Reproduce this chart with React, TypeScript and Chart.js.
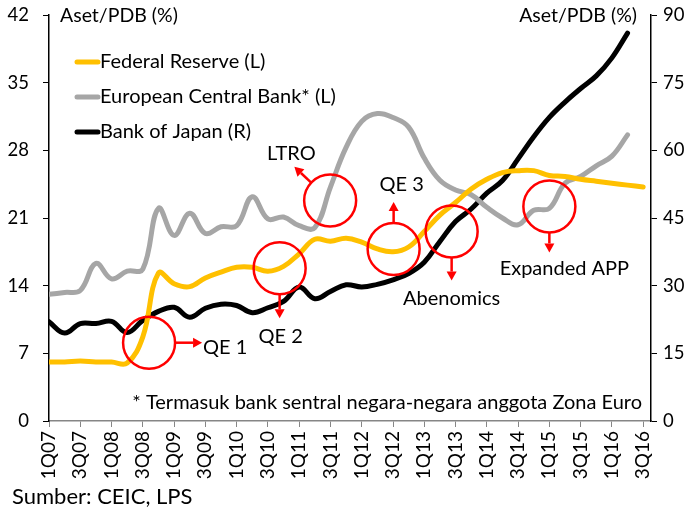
import React, { useEffect, useRef } from "react";
import { Chart, registerables } from "chart.js";

Chart.register(...registerables);

const FONT = "Lato, 'Open Sans', sans-serif";

const quarters = [
  "1Q07", "2Q07", "3Q07", "4Q07", "1Q08", "2Q08", "3Q08", "4Q08",
  "1Q09", "2Q09", "3Q09", "4Q09", "1Q10", "2Q10", "3Q10", "4Q10",
  "1Q11", "2Q11", "3Q11", "4Q11", "1Q12", "2Q12", "3Q12", "4Q12",
  "1Q13", "2Q13", "3Q13", "4Q13", "1Q14", "2Q14", "3Q14", "4Q14",
  "1Q15", "2Q15", "3Q15", "4Q15", "1Q16", "2Q16", "3Q16",
];

// % of GDP, left axis
const fedReserve = [
  6.1, 6.1, 6.2, 6.1, 6.1, 6.0, 8.7, 15.3, 14.2, 13.9, 14.8, 15.4, 15.9, 15.9, 15.5, 16.0,
  17.3, 18.8, 18.6, 18.9, 18.5, 17.8, 17.5, 18.0, 19.6, 21.3, 22.6, 24.0, 25.0, 25.7, 25.9, 25.9,
  25.4, 25.3, 25.0, 24.8, 24.6, 24.4, 24.2,
];

// % of GDP, left axis
const ecb = [
  13.1, 13.3, 13.5, 16.3, 14.7, 15.5, 15.7, 22.0, 19.2, 21.5, 19.4, 20.1, 20.2, 23.2, 20.9, 21.1,
  20.2, 20.0, 24.2, 28.3, 31.0, 31.8, 31.4, 30.4, 27.2, 24.9, 23.9, 23.4, 22.1, 21.0, 20.3, 21.8,
  22.0, 24.6, 25.3, 26.4, 27.4, 29.6,
];

// % of GDP, right axis
const boj = [
  22.0, 19.5, 21.6, 21.6, 22.1, 19.6, 22.3, 24.3, 25.2, 23.0, 25.0, 25.9, 25.6, 24.0, 25.1, 26.5,
  29.7, 27.1, 28.7, 30.2, 29.7, 30.3, 31.3, 32.7, 35.2, 39.8, 44.2, 47.0, 50.5, 53.3, 58.1, 63.0,
  67.3, 70.7, 73.7, 76.5, 80.5, 86.0,
];

const leftMax = 42;
const leftStep = 7;
const rightMax = 90;
const rightStep = 15;

const seriesNames = ["Federal Reserve (L)", "European Central Bank* (L)", "Bank of Japan (R)"];
const seriesColors = ["#FFC000", "#A6A6A6", "#000000"];

const axisTitle = "Aset/PDB (%)";
const footnote = "* Termasuk bank sentral negara-negara anggota Zona Euro";
const source = "Sumber: CEIC, LPS";

// Annotation circles: q = quarter index, v = left-axis value
const annotations = [
  { label: "QE 1", q: 6.4, v: 8.1, dir: [1, 0], len: 27, align: "left", tx: 1, ty: 5 },
  { label: "QE 2", q: 14.75, v: 15.8, dir: [0, 1], len: 24, align: "center", tx: 1, ty: 18 },
  { label: "LTRO", q: 17.98, v: 22.8, dir: [-0.73, -0.69], len: 23, align: "center", tx: -3, ty: -13 },
  { label: "QE 3", q: 22.04, v: 17.8, dir: [0, -1], len: 21, align: "center", tx: 8, ty: -17 },
  { label: "Abenomics", q: 25.75, v: 19.6, dir: [0, 1], len: 23, align: "center", tx: 0, ty: 18 },
  { label: "Expanded APP", q: 32.0, v: 22.2, dir: [0, 1], len: 20, align: "center", tx: 15, ty: 16 },
];

const toXY = (arr: number[]) => arr.map((y, i) => ({ x: i, y }));

const zeroPad = (scale: any) => {
  scale.paddingTop = 0;
  scale.paddingBottom = 0;
  scale.paddingLeft = 0;
  scale.paddingRight = 0;
};

const overlayPlugin = {
  id: "overlay",
  afterDatasetsDraw(chart: any) {
    const ctx = chart.ctx;
    const xs = chart.scales.x;
    const ys = chart.scales.y;
    const r = 26;
    ctx.save();
    ctx.strokeStyle = "#FF0000";
    ctx.fillStyle = "#FF0000";
    ctx.lineWidth = 2.5;
    for (const a of annotations) {
      const cx = xs.getPixelForValue(a.q);
      const cy = ys.getPixelForValue(a.v);
      ctx.beginPath();
      ctx.arc(cx, cy, r, 0, Math.PI * 2);
      ctx.stroke();
      const [dx, dy] = a.dir;
      const sx = cx + dx * r;
      const sy = cy + dy * r;
      const ex = sx + dx * a.len;
      const ey = sy + dy * a.len;
      const head = 9;
      const hw = 5;
      const bx = ex - dx * head;
      const by = ey - dy * head;
      ctx.beginPath();
      ctx.moveTo(sx, sy);
      ctx.lineTo(bx, by);
      ctx.stroke();
      ctx.beginPath();
      ctx.moveTo(ex, ey);
      ctx.lineTo(bx - dy * hw, by + dx * hw);
      ctx.lineTo(bx + dy * hw, by - dx * hw);
      ctx.closePath();
      ctx.fill();
      ctx.save();
      ctx.fillStyle = "#000";
      ctx.font = `20px ${FONT}`;
      ctx.textAlign = a.align as CanvasTextAlign;
      ctx.textBaseline = "middle";
      ctx.fillText(a.label, ex + a.tx, ey + a.ty);
      ctx.restore();
    }
    ctx.restore();
  },
  afterDraw(chart: any) {
    const ctx = chart.ctx;
    const area = chart.chartArea;
    ctx.save();
    ctx.fillStyle = "#000";
    ctx.textBaseline = "middle";
    ctx.font = `19.5px ${FONT}`;
    ctx.textAlign = "left";
    ctx.fillText(axisTitle, area.left + 11, area.top + 1);
    ctx.textAlign = "right";
    ctx.fillText(axisTitle, area.right - 14, area.top + 1);

    // legend
    ctx.font = `20px ${FONT}`;
    ctx.textAlign = "left";
    seriesNames.forEach((name, i) => {
      const y = area.top + 47 + i * 35;
      ctx.strokeStyle = seriesColors[i];
      ctx.lineWidth = 5;
      ctx.lineCap = "round";
      ctx.beginPath();
      ctx.moveTo(area.left + 28, y);
      ctx.lineTo(area.left + 49, y);
      ctx.stroke();
      ctx.fillText(name, area.left + 51, y);
    });

    ctx.font = `20px ${FONT}`;
    ctx.textAlign = "right";
    ctx.fillText(footnote, area.right - 9, area.bottom - 18);

    ctx.font = `22px ${FONT}`;
    ctx.textAlign = "left";
    ctx.fillText(source, 12, 497);
    ctx.restore();
  },
};

export default function App() {
  const canvasRef = useRef<HTMLCanvasElement | null>(null);

  useEffect(() => {
    const canvas = canvasRef.current;
    if (!canvas) return;
    const tickFont = { family: FONT, size: 18.5 };
    const xTickFont = { family: FONT, size: 19 };
    const chart = new Chart(canvas, {
      type: "line",
      data: {
        datasets: [
          {
            label: seriesNames[0],
            data: toXY(fedReserve),
            borderColor: seriesColors[0],
            yAxisID: "y",
          },
          {
            label: seriesNames[1],
            data: toXY(ecb),
            borderColor: seriesColors[1],
            yAxisID: "y",
          },
          {
            label: seriesNames[2],
            data: toXY(boj),
            borderColor: seriesColors[2],
            yAxisID: "y1",
          },
        ].map((d) => ({
          ...d,
          borderWidth: 5,
          pointRadius: 0,
          tension: 0.4,
          fill: false,
          borderCapStyle: "round" as const,
          borderJoinStyle: "round" as const,
        })),
      },
      options: {
        animation: false,
        responsive: false,
        devicePixelRatio: 1,
        layout: { padding: { top: 15, left: 0, right: 0, bottom: 0 } },
        plugins: {
          legend: { display: false },
          tooltip: { enabled: false },
        },
        scales: {
          x: {
            type: "linear",
            min: 0,
            max: 38.5,
            grid: {
              drawOnChartArea: false,
              drawTicks: true,
              tickLength: 6,
              color: "#868686",
            },
            border: { color: "#868686", width: 1.5 },
            ticks: {
              stepSize: 2,
              includeBounds: false,
              autoSkip: false,
              minRotation: 90,
              maxRotation: 90,
              padding: 4,
              color: "#000",
              font: xTickFont,
              callback: (value: any) => quarters[Number(value)] ?? "",
            },
            afterFit: (scale: any) => {
              scale.height = 90;
              zeroPad(scale);
            },
          },
          y: {
            position: "left",
            min: 0,
            max: leftMax,
            grid: { drawOnChartArea: false, drawTicks: true, tickLength: 6, color: "#000" },
            border: { color: "#000", width: 1.5 },
            ticks: { stepSize: leftStep, padding: 14, color: "#000", font: tickFont },
            afterFit: (scale: any) => {
              scale.width = 49;
              zeroPad(scale);
            },
          },
          y1: {
            position: "right",
            min: 0,
            max: rightMax,
            grid: { drawOnChartArea: false, drawTicks: true, tickLength: 6, color: "#000" },
            border: { color: "#000", width: 1.5 },
            ticks: { stepSize: rightStep, padding: 6, color: "#000", font: tickFont },
            afterFit: (scale: any) => {
              scale.width = 42;
              zeroPad(scale);
            },
          },
        },
      },
      plugins: [overlayPlugin],
    } as any);
    return () => chart.destroy();
  }, []);

  return (
    <div style={{ position: "absolute", left: 0, top: 0, width: 693, height: 511, background: "#fff" }}>
      <canvas ref={canvasRef} width={693} height={511} style={{ display: "block" }} />
    </div>
  );
}
